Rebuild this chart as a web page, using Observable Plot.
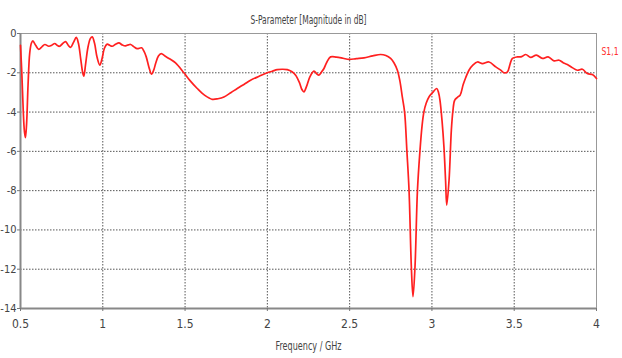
<!DOCTYPE html>
<html><head><meta charset="utf-8">
<script src="https://cdn.jsdelivr.net/npm/d3@7"></script>
<script src="https://cdn.jsdelivr.net/npm/@observablehq/plot@0.6"></script>
<style>
body{margin:0;background:#fff;}
#chart svg text{font-family:"DejaVu Sans Condensed","DejaVu Sans",sans-serif;}
</style></head><body><div id="chart"></div>
<script>
const freq = [0.500,0.508,0.517,0.524,0.530,0.537,0.546,0.556,0.566,0.575,0.592,0.611,0.630,0.648,0.672,0.690,0.708,0.722,0.737,0.755,0.774,0.790,0.804,0.822,0.839,0.852,0.866,0.878,0.885,0.895,0.910,0.925,0.936,0.950,0.965,0.982,0.995,1.010,1.027,1.042,1.057,1.078,1.098,1.118,1.138,1.155,1.169,1.190,1.209,1.236,1.250,1.264,1.280,1.296,1.310,1.321,1.338,1.355,1.378,1.402,1.442,1.493,1.530,1.574,1.620,1.665,1.700,1.736,1.780,1.817,1.860,1.898,1.950,1.999,2.030,2.060,2.090,2.121,2.150,2.172,2.195,2.210,2.222,2.240,2.259,2.283,2.300,2.313,2.330,2.344,2.362,2.384,2.420,2.460,2.496,2.540,2.587,2.640,2.688,2.720,2.749,2.770,2.790,2.805,2.820,2.834,2.848,2.861,2.875,2.885,2.897,2.912,2.927,2.940,2.951,2.965,2.982,3.005,3.029,3.040,3.049,3.062,3.073,3.083,3.090,3.104,3.118,3.128,3.138,3.155,3.171,3.190,3.205,3.225,3.250,3.276,3.307,3.347,3.388,3.420,3.438,3.459,3.475,3.489,3.520,3.545,3.570,3.600,3.635,3.671,3.706,3.742,3.773,3.800,3.823,3.855,3.884,3.914,3.944,3.975,4.000];
const s11 = [-0.6,-2.0,-4.0,-5.0,-5.3,-4.6,-2.6,-1.0,-0.5,-0.38,-0.6,-0.81,-0.68,-0.56,-0.65,-0.6,-0.51,-0.6,-0.65,-0.52,-0.41,-0.6,-0.71,-0.45,-0.2,-0.5,-1.3,-2.0,-2.17,-1.6,-0.7,-0.25,-0.17,-0.5,-1.2,-1.61,-1.3,-0.75,-0.54,-0.6,-0.65,-0.55,-0.48,-0.58,-0.63,-0.58,-0.56,-0.68,-0.77,-0.73,-0.9,-1.19,-1.7,-2.07,-1.85,-1.53,-1.15,-1.02,-1.15,-1.27,-1.5,-2.0,-2.4,-2.8,-3.15,-3.35,-3.32,-3.23,-3.0,-2.8,-2.58,-2.38,-2.18,-2.0,-1.92,-1.84,-1.82,-1.84,-1.95,-2.12,-2.5,-2.85,-2.97,-2.65,-2.2,-1.92,-2.05,-2.12,-1.95,-1.78,-1.45,-1.19,-1.2,-1.26,-1.32,-1.28,-1.24,-1.14,-1.07,-1.12,-1.27,-1.5,-1.87,-2.4,-3.23,-4.0,-6.0,-8.0,-11.9,-13.4,-11.9,-8.0,-6.0,-4.7,-4.0,-3.55,-3.23,-3.0,-2.8,-3.0,-3.4,-4.5,-5.77,-7.5,-8.74,-7.47,-4.92,-3.9,-3.4,-3.25,-3.14,-2.6,-2.25,-1.87,-1.6,-1.45,-1.53,-1.45,-1.70,-1.88,-2.0,-1.95,-1.55,-1.27,-1.19,-1.18,-1.07,-1.22,-1.1,-1.27,-1.19,-1.39,-1.36,-1.5,-1.58,-1.75,-1.87,-1.82,-2.04,-2.09,-2.29];
const xTicks = [0.5,1,1.5,2,2.5,3,3.5,4];
const yTicks = [0,-2,-4,-6,-8,-10,-12,-14];
const title = "S-Parameter [Magnitude in dB]";
const xLabel = "Frequency / GHz";
const seriesName = "S1,1";

const data = freq.map((f, i) => ({f, v: s11[i]}));
const font = "'DejaVu Sans Condensed','DejaVu Sans',sans-serif";
const chart = Plot.plot({
  width: 622, height: 358,
  marginTop: 33, marginLeft: 20, marginRight: 26, marginBottom: 50,
  style: {fontFamily: font, fontSize: "12px", color: "#444", background: "#fff", overflow: "visible"},
  x: {domain: [0.5, 4], label: null},
  y: {domain: [-14, 0], label: null},
  marks: [
    Plot.gridX(xTicks, {stroke: "#555", strokeOpacity: 1, strokeDasharray: "1.5,1.5"}),
    Plot.gridY(yTicks, {stroke: "#555", strokeOpacity: 1, strokeDasharray: "1.5,1.5"}),
    Plot.frame({stroke: "#999"}),
    Plot.ruleX([0.5], {stroke: "#888", strokeWidth: 2}),
    Plot.ruleY([-14], {stroke: "#888", strokeWidth: 2}),
    Plot.axisX(xTicks, {tickSize: 3, tickPadding: 8, tickFormat: d => String(d), fontSize: 12, stroke: "#777"}),
    Plot.axisY(yTicks, {tickSize: 3, tickPadding: 1, tickFormat: d => String(d), fontSize: 11, stroke: "#777"}),
    Plot.line(data, {x: "f", y: "v", stroke: "#ff2020", strokeWidth: 1.7, curve: "catmull-rom"}),
    Plot.text([title], {text: d => d, frameAnchor: "top", dy: -18, fontSize: 12, fill: "#444"}),
    Plot.text([xLabel], {text: d => d, frameAnchor: "bottom", dy: 41, fontSize: 12, fill: "#444"}),
    Plot.text([seriesName], {text: d => d, frameAnchor: "top-right", dx: 5, dy: 14, textAnchor: "start", fontSize: 10, fill: "#ff3030"})
  ]
});
document.getElementById("chart").append(chart);
const squeeze = {[title]: 116, [xLabel]: 66, [seriesName]: 17};
d3.select(chart).selectAll("text").each(function () {
  const t = this.textContent;
  if (squeeze[t]) {
    d3.select(this).attr("textLength", squeeze[t]).attr("lengthAdjust", "spacingAndGlyphs");
  }
});
</script></body></html>
